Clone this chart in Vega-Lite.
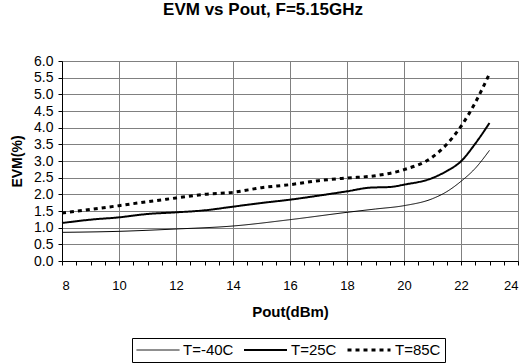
{
  "$schema": "https://vega.github.io/schema/vega-lite/v6.json",
  "autosize": "none",
  "width": 456,
  "height": 200,
  "padding": {"left": 62, "top": 61, "right": 10, "bottom": 103},
  "background": "white",
  "title": {"text": "EVM vs Pout, F=5.15GHz", "font": "Liberation Sans", "fontSize": 17, "fontWeight": "bold", "anchor": "middle", "dx": -27, "offset": 35, "color": "black"},
  "config": {
    "view": {"stroke": "#808080", "strokeWidth": 1},
    "font": "Liberation Sans"
  },
  "data": {"values": [
    {"pout": 8, "evm": 0.86, "T": "T=-40C"},
    {"pout": 10, "evm": 0.89, "T": "T=-40C"},
    {"pout": 12, "evm": 0.96, "T": "T=-40C"},
    {"pout": 14, "evm": 1.05, "T": "T=-40C"},
    {"pout": 16, "evm": 1.24, "T": "T=-40C"},
    {"pout": 18, "evm": 1.46, "T": "T=-40C"},
    {"pout": 19, "evm": 1.56, "T": "T=-40C"},
    {"pout": 20, "evm": 1.66, "T": "T=-40C"},
    {"pout": 21, "evm": 1.87, "T": "T=-40C"},
    {"pout": 21.5, "evm": 2.08, "T": "T=-40C"},
    {"pout": 22, "evm": 2.39, "T": "T=-40C"},
    {"pout": 22.5, "evm": 2.78, "T": "T=-40C"},
    {"pout": 23, "evm": 3.32, "T": "T=-40C"},
    {"pout": 8, "evm": 1.14, "T": "T=25C"},
    {"pout": 9, "evm": 1.24, "T": "T=25C"},
    {"pout": 10, "evm": 1.31, "T": "T=25C"},
    {"pout": 11, "evm": 1.41, "T": "T=25C"},
    {"pout": 12, "evm": 1.46, "T": "T=25C"},
    {"pout": 13, "evm": 1.52, "T": "T=25C"},
    {"pout": 14, "evm": 1.63, "T": "T=25C"},
    {"pout": 15, "evm": 1.74, "T": "T=25C"},
    {"pout": 16, "evm": 1.84, "T": "T=25C"},
    {"pout": 17, "evm": 1.96, "T": "T=25C"},
    {"pout": 18, "evm": 2.09, "T": "T=25C"},
    {"pout": 18.8, "evm": 2.2, "T": "T=25C"},
    {"pout": 19.5, "evm": 2.22, "T": "T=25C"},
    {"pout": 20, "evm": 2.29, "T": "T=25C"},
    {"pout": 21, "evm": 2.49, "T": "T=25C"},
    {"pout": 21.5, "evm": 2.7, "T": "T=25C"},
    {"pout": 22, "evm": 2.99, "T": "T=25C"},
    {"pout": 22.5, "evm": 3.52, "T": "T=25C"},
    {"pout": 23, "evm": 4.14, "T": "T=25C"},
    {"pout": 8, "evm": 1.44, "T": "T=85C"},
    {"pout": 9, "evm": 1.55, "T": "T=85C"},
    {"pout": 10, "evm": 1.66, "T": "T=85C"},
    {"pout": 11, "evm": 1.78, "T": "T=85C"},
    {"pout": 12, "evm": 1.89, "T": "T=85C"},
    {"pout": 13, "evm": 2.0, "T": "T=85C"},
    {"pout": 14, "evm": 2.06, "T": "T=85C"},
    {"pout": 15, "evm": 2.2, "T": "T=85C"},
    {"pout": 16, "evm": 2.29, "T": "T=85C"},
    {"pout": 17, "evm": 2.41, "T": "T=85C"},
    {"pout": 18, "evm": 2.49, "T": "T=85C"},
    {"pout": 19, "evm": 2.56, "T": "T=85C"},
    {"pout": 20, "evm": 2.74, "T": "T=85C"},
    {"pout": 21, "evm": 3.12, "T": "T=85C"},
    {"pout": 21.5, "evm": 3.5, "T": "T=85C"},
    {"pout": 22, "evm": 4.04, "T": "T=85C"},
    {"pout": 22.5, "evm": 4.75, "T": "T=85C"},
    {"pout": 23, "evm": 5.62, "T": "T=85C"}
  ]},
  "mark": {"type": "line", "interpolate": "monotone", "color": "black"},
  "encoding": {
    "x": {"field": "pout", "type": "quantitative",
      "scale": {"domain": [8, 24], "nice": false, "zero": false},
      "axis": {"title": "Pout(dBm)", "titleFont": "Liberation Sans", "titleFontSize": 15, "titleFontWeight": "bold", "titleColor": "black", "titlePadding": 12,
        "values": [8, 8.5, 9, 9.5, 10, 10.5, 11, 11.5, 12, 12.5, 13, 13.5, 14, 14.5, 15, 15.5, 16, 16.5, 17, 17.5, 18, 18.5, 19, 19.5, 20, 20.5, 21, 21.5, 22, 22.5, 23, 23.5, 24],
        "labelExpr": "datum.value % 2 === 0 ? format(datum.value, 'd') : ''",
        "labelFont": "Liberation Sans", "labelFontSize": 13, "labelColor": "black", "labelPadding": 14, "labelOverlap": false,
        "domainColor": "black", "tickColor": "black", "tickSize": 4,
        "gridColor": "#808080", "gridWidth": 1,
        "gridOpacity": {"condition": {"test": "datum.value % 2 === 0", "value": 1}, "value": 0}}},
    "y": {"field": "evm", "type": "quantitative",
      "scale": {"domain": [0, 6], "nice": false},
      "axis": {"title": "EVM(%)", "titleFont": "Liberation Sans", "titleFontSize": 14, "titleFontWeight": "bold", "titleColor": "black", "titlePadding": 9,
        "values": [0, 0.5, 1, 1.5, 2, 2.5, 3, 3.5, 4, 4.5, 5, 5.5, 6], "format": ".1f",
        "labelFont": "Liberation Sans", "labelFontSize": 14, "labelColor": "black", "labelPadding": 5,
        "domainColor": "black", "tickColor": "black", "tickSize": 4,
        "gridColor": "#808080", "gridOpacity": 1, "gridWidth": 1}},
    "strokeWidth": {"field": "T", "type": "nominal",
      "scale": {"domain": ["T=-40C", "T=25C", "T=85C"], "range": [1, 3, 2]},
      "legend": {"title": null, "orient": "none", "legendX": 70, "legendY": 277, "direction": "horizontal",
        "symbolType": "stroke", "symbolSize": 1849, "symbolStrokeColor": "black", "clipHeight": 16,
        "labelFont": "Liberation Sans", "labelFontSize": 15, "labelColor": "black",
        "strokeColor": "black", "padding": 4, "columnPadding": 9, "labelOffset": 3, "symbolOffset": 0}},
    "strokeDash": {"field": "T", "type": "nominal",
      "scale": {"domain": ["T=-40C", "T=25C", "T=85C"], "range": [[1, 0], [1, 0], [4, 4]]},
      "legend": {"title": null, "orient": "none", "legendX": 70, "legendY": 277, "direction": "horizontal",
        "symbolType": "stroke", "symbolSize": 1849, "symbolStrokeColor": "black", "clipHeight": 16,
        "labelFont": "Liberation Sans", "labelFontSize": 15, "labelColor": "black",
        "strokeColor": "black", "padding": 4, "columnPadding": 9, "labelOffset": 3, "symbolOffset": 0}}
  }
}
